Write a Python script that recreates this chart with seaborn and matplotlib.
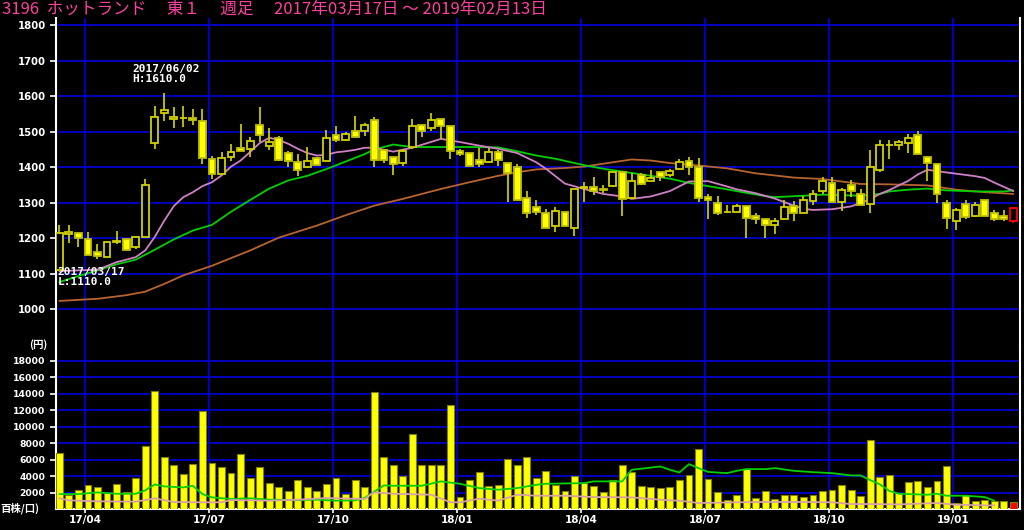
import pandas as pd
import numpy as np
import seaborn as sns
import matplotlib.pyplot as plt

# weekly candles 2017/03/17 - 2019/02/13 (3196 ホットランド)
opens = [1112, 1213, 1215, 1197, 1163, 1147, 1191, 1197, 1175, 1204,
         1469, 1552, 1535, 1540, 1539, 1531, 1424, 1382, 1428, 1455,
         1452, 1519, 1460, 1483, 1440, 1416, 1400, 1426, 1419, 1491,
         1477, 1501, 1502, 1532, 1449, 1428, 1413, 1457, 1520, 1511,
         1536, 1515, 1447, 1440, 1421, 1416, 1443, 1413, 1400, 1314,
         1288, 1271, 1234, 1273, 1230, 1342, 1344, 1338, 1347, 1386,
         1314, 1377, 1361, 1386, 1377, 1394, 1417, 1402, 1316, 1300,
         1274, 1275, 1290, 1264, 1254, 1238, 1255, 1291, 1272, 1305,
         1333, 1356, 1302, 1349, 1325, 1297, 1393, 1463, 1463, 1469,
         1492, 1428, 1410, 1300, 1250, 1297, 1264, 1307, 1272, 1263,
         1249]
highs = [1238, 1238, 1215, 1218, 1185, 1190, 1220, 1197, 1208, 1368,
         1572, 1610, 1569, 1572, 1565, 1565, 1433, 1444, 1466, 1522,
         1485, 1571, 1510, 1488, 1447, 1438, 1458, 1428, 1506, 1515,
         1500, 1543, 1524, 1541, 1449, 1428, 1452, 1536, 1520, 1553,
         1536, 1515, 1452, 1440, 1454, 1454, 1449, 1413, 1408, 1332,
         1309, 1283, 1288, 1273, 1338, 1358, 1374, 1349, 1388, 1386,
         1384, 1384, 1393, 1386, 1396, 1424, 1428, 1426, 1324, 1318,
         1295, 1297, 1290, 1272, 1254, 1257, 1307, 1304, 1318, 1335,
         1372, 1372, 1342, 1363, 1339, 1450, 1477, 1477, 1477, 1494,
         1502, 1431, 1410, 1309, 1286, 1309, 1302, 1307, 1279, 1281,
         1286]
lows = [1110, 1187, 1175, 1154, 1143, 1147, 1183, 1168, 1170, 1204,
        1452, 1530, 1510, 1514, 1519, 1410, 1366, 1382, 1419, 1445,
        1428, 1471, 1449, 1419, 1402, 1375, 1398, 1405, 1419, 1471,
        1475, 1484, 1489, 1400, 1412, 1379, 1403, 1452, 1485, 1502,
        1480, 1424, 1433, 1404, 1400, 1412, 1403, 1302, 1307, 1257,
        1266, 1230, 1218, 1236, 1208, 1302, 1323, 1328, 1344, 1263,
        1311, 1349, 1361, 1361, 1374, 1391, 1379, 1302, 1255, 1267,
        1272, 1275, 1202, 1240, 1200, 1213, 1251, 1249, 1272, 1295,
        1325, 1302, 1277, 1316, 1291, 1271, 1386, 1424, 1449, 1440,
        1438, 1361, 1299, 1227, 1224, 1255, 1260, 1263, 1249, 1249,
        1244]
closes = [1215, 1217, 1202, 1154, 1151, 1190, 1193, 1168, 1204, 1351,
          1542, 1562, 1542, 1540, 1532, 1427, 1382, 1427, 1444, 1445,
          1473, 1490, 1470, 1421, 1417, 1391, 1419, 1407, 1483, 1477,
          1494, 1485, 1519, 1421, 1421, 1410, 1445, 1516, 1503, 1533,
          1515, 1445, 1438, 1404, 1410, 1442, 1421, 1383, 1309, 1272,
          1274, 1230, 1276, 1236, 1338, 1344, 1333, 1337, 1388, 1311,
          1361, 1354, 1370, 1374, 1389, 1414, 1400, 1314, 1309, 1271,
          1274, 1290, 1258, 1255, 1238, 1250, 1288, 1272, 1307, 1325,
          1360, 1302, 1335, 1333, 1294, 1400, 1464, 1463, 1470, 1483,
          1438, 1412, 1325, 1258, 1281, 1260, 1295, 1263, 1255, 1255,
          1286]
volume = [6800, 1700, 2250, 2860, 2620, 1930, 3020, 2050, 3710, 7660,
          14300, 6330, 5280, 4190, 5480, 11930, 5600, 5040, 4310, 6690,
          3710, 5040, 3100, 2660, 2180, 3470, 2660, 2180, 3020, 3710,
          1850, 3470, 2660, 14230, 6330, 5280, 3950, 9070, 5280, 5280,
          5360, 12620, 1490, 3470, 4550, 2740, 2860, 6090, 5280, 6330,
          3710, 4630, 2860, 2140, 3950, 3140, 2740, 2060, 3470, 5360,
          4430, 2740, 2660, 2540, 2660, 3470, 4070, 7300, 3630, 2060,
          1090, 1690, 4880, 1330, 2180, 1210, 1690, 1690, 1450, 1690,
          2140, 2260, 2860, 2260, 1570, 8350, 3830, 4070, 1900, 3230,
          3350, 2620, 3430, 5240, 690, 1690, 930, 1090, 970, 970,
          810]

# moving averages (week number, value)
ma13_wk = [0, 4, 6, 8, 9, 10, 11, 12, 13, 14, 15, 16, 17, 18, 19, 20, 21, 22, 23, 24,
           25, 26, 27, 28, 29, 30, 31, 32, 33, 35, 37, 40, 42, 44, 46, 48, 50, 51, 52, 53,
           55, 57, 59, 60, 62, 64, 66, 68, 70, 71, 73, 75, 77, 78, 79, 81, 83, 84, 85, 86,
           87, 89, 90, 91, 92, 94, 96, 97, 98, 99, 100]
ma13 = [1108, 1112, 1133, 1147, 1166, 1204, 1250, 1291, 1316, 1330, 1347, 1358, 1377, 1402, 1419, 1443, 1468, 1483, 1477, 1466,
        1452, 1440, 1433, 1435, 1442, 1445, 1449, 1455, 1455, 1444, 1455, 1480, 1471, 1461, 1452, 1440, 1414, 1396, 1375, 1354,
        1339, 1325, 1318, 1311, 1318, 1333, 1360, 1361, 1346, 1338, 1327, 1312, 1292, 1283, 1280, 1282, 1290, 1300, 1310, 1325,
        1336, 1362, 1380, 1393, 1389, 1382, 1375, 1370, 1357, 1345, 1333]
ma26_wk = [0, 2, 4, 6, 8, 10, 12, 14, 16, 18, 20, 22, 24, 26, 28, 30, 32, 33, 35, 37,
           40, 43, 46, 48, 50, 52, 55, 57, 60, 64, 66, 68, 70, 72, 74, 75, 78, 80, 84, 86,
           87, 89, 91, 93, 96, 99, 100]
ma26 = [1077, 1094, 1110, 1127, 1140, 1168, 1197, 1222, 1238, 1275, 1308, 1340, 1363, 1376, 1395, 1416, 1437, 1450, 1464, 1457,
        1457, 1457, 1456, 1445, 1433, 1424, 1406, 1396, 1384, 1368, 1356, 1347, 1338, 1328, 1319, 1316, 1320, 1323, 1320, 1325,
        1332, 1337, 1340, 1335, 1332, 1332, 1335]
ma52_wk = [0, 4, 7, 9, 11, 13, 16, 20, 23, 27, 30, 33, 36, 40, 43, 46, 48, 50, 53, 55,
           57, 60, 62, 64, 67, 70, 73, 77, 80, 84, 87, 91, 94, 97, 100]
ma52 = [1024, 1030, 1040, 1050, 1072, 1096, 1123, 1166, 1202, 1236, 1265, 1292, 1311, 1339, 1358, 1376, 1386, 1394, 1398, 1402,
        1410, 1422, 1419, 1412, 1405, 1397, 1383, 1371, 1367, 1353, 1352, 1349, 1337, 1330, 1325]

vma_s_wk = [0, 2, 4, 6, 8, 9, 10, 11, 13, 14, 15, 16, 18, 20, 22, 25, 27, 29, 31, 32,
            34, 35, 38, 40, 42, 44, 46, 48, 50, 51, 55, 56, 59, 60, 63, 64, 65, 66, 67, 68,
            70, 71, 72, 74, 75, 77, 79, 81, 83, 84, 85, 86, 87, 88, 91, 92, 93, 95, 97, 98]
vma_s = [1810, 1810, 2015, 1850, 1850, 2260, 2980, 2740, 2620, 2820, 1810, 1410, 1210, 1290, 1130, 1090, 1130, 1010, 1050, 1330,
         2860, 2820, 2820, 3350, 3060, 2540, 2340, 2540, 2940, 3060, 3140, 3350, 3350, 4760, 5160, 4760, 4430, 5440, 4960, 4500,
         4350, 4630, 4840, 4840, 4960, 4630, 4470, 4350, 4070, 4070, 3500, 3000, 2200, 1850, 1730, 1850, 1610, 1610, 1450, 1010]
vma_l_wk = [0, 1, 4, 8, 10, 12, 15, 17, 18, 22, 25, 28, 32, 33, 35, 39, 41, 42, 44, 46,
            48, 50, 53, 56, 60, 63, 64, 65, 67, 71, 74, 78, 81, 83, 85, 88, 92, 94, 97, 98]
vma_l = [1290, 1050, 930, 890, 1290, 850, 810, 810, 1090, 1010, 1130, 1330, 1210, 2020, 1850, 1730, 810, 810, 1250, 1010,
         1730, 1610, 1610, 1450, 1410, 1130, 1050, 1010, 725, 810, 850, 850, 810, 600, 600, 560, 725, 520, 440, 440]

title = "3196  ホットランド　 東１　 週足　 2017年03月17日 ～ 2019年02月13日"

sns.set_theme(style="dark", rc={"axes.facecolor": "black", "figure.facecolor": "black"})
plt.rcParams['font.family'] = ['DejaVu Sans', 'Noto Sans CJK JP']

W, H = 1024, 530
fig = plt.figure(figsize=(W / 100, H / 100), dpi=100)
ax = fig.add_axes([56 / W, 1 - 345 / H, (1020 - 56) / W, (345 - 18) / H])
axv = fig.add_axes([56 / W, 1 - 509 / H, (1020 - 56) / W, (509 - 345) / H], sharex=ax)

weeks = pd.date_range("2017-03-17", periods=len(closes), freq="7D")
idx = np.arange(len(closes))

# quarter grid: just left of the first candle in Jan/Apr/Jul/Oct
qpos, qlab = [], []
for i in range(1, len(weeks)):
    if weeks[i].month != weeks[i - 1].month and weeks[i].month in (1, 4, 7, 10):
        qpos.append(i - 0.3)
        qlab.append(weeks[i].strftime("%y/%m"))

grid_col = "#0000d0"
o, h, l, c = map(np.array, (opens, highs, lows, closes))
up = c >= o
last = len(c) - 1
wick_col = ["#c8c800"] * len(c)
wick_col[last] = "#e00000"
ax.vlines(idx, l, h, color=wick_col, lw=1.3, zorder=3)
face = np.where(up, "black", "#ffff00").tolist()
edge = np.where(up, "#d0d000", "#c0c000").tolist()
face[last], edge[last] = "black", "#ff0000"
ax.bar(idx, np.abs(c - o), bottom=np.minimum(o, c), width=0.72,
       color=face, edgecolor=edge, lw=1.3, zorder=4)

sns.lineplot(x=ma52_wk, y=ma52, ax=ax, color="#b8642e", lw=1.3, zorder=2)
sns.lineplot(x=ma26_wk, y=ma26, ax=ax, color="#00d000", lw=1.3, zorder=2)
sns.lineplot(x=ma13_wk, y=ma13, ax=ax, color="#d080c8", lw=1.3, zorder=2)

mono = dict(color="white", fontsize=8, fontweight="bold", family="DejaVu Sans Mono",
            textcoords="offset pixels", ha="left", va="top", linespacing=1.0, zorder=6)
hi = int(np.argmax(h))
lo = int(np.argmin(l))
ax.annotate(f"{weeks[hi]:%Y/%m/%d}\nH:{h[hi]:.1f}", xy=(hi, h[hi]), xytext=(-32, 29), **mono)
ax.annotate(f"{weeks[lo]:%Y/%m/%d}\nL:{l[lo]:.1f}", xy=(lo, l[lo]), xytext=(-2, 3), **mono)

# volume panel
vcol = ["#ffff00"] * len(volume)
vcol[last] = "#ff0000"
axv.bar(idx, volume, width=0.72, color=vcol, edgecolor="#808000", lw=0.8, zorder=3)
sns.lineplot(x=vma_s_wk, y=vma_s, ax=axv, color="#00d000", lw=1.3, zorder=4)
sns.lineplot(x=vma_l_wk, y=vma_l, ax=axv, color="#d8a0a8", lw=1.3, zorder=4)

ax.set_xlim(-0.35, 100.7)
ax.set_ylim(900, 1820)
axv.set_ylim(0, 19900)
ax.set_yticks(range(1000, 1801, 100))
axv.set_yticks(range(2000, 18001, 2000))
axv.set_xticks(qpos)
axv.set_xticklabels(qlab)

for a in (ax, axv):
    a.set_facecolor("black")
    a.set_xlabel("")
    a.set_ylabel("")
    a.grid(True, color=grid_col, lw=1.3)
    a.set_axisbelow(True)
    for s in a.spines.values():
        s.set_visible(False)
    for s in ("left", "right"):
        a.spines[s].set_visible(True)
        a.spines[s].set_color("white")
        a.spines[s].set_linewidth(1.5)
    a.tick_params(axis="y", left=True, length=4.5, width=1.2, color="white", pad=3,
                  labelcolor="white", labelsize=7.3)
    for t in a.get_yticklabels():
        t.set_fontweight("bold")

ax.tick_params(axis="x", bottom=False, labelbottom=False)
axv.spines["bottom"].set_visible(True)
axv.spines["bottom"].set_color("white")
axv.spines["bottom"].set_linewidth(1.5)
axv.tick_params(axis="y", labelsize=6.7)
axv.tick_params(axis="x", bottom=True, length=3, width=1.2, color="white", pad=1.5,
                labelcolor="white", labelsize=7.5)
for t in axv.get_xticklabels():
    t.set_fontweight("bold")

cjk = ["Noto Sans CJK JP", "DejaVu Sans"]
fig.text(2 / W, 1 - 9 / H, title, color="#ff40a0", fontsize=12, family=cjk,
         ha="left", va="center")
fig.text(47 / W, 1 - 345 / H, "(円)", color="white", fontsize=7.5, fontweight="bold",
         family=cjk, ha="right", va="center")
fig.text(0, 1 - 508 / H, "百株/口)", color="white", fontsize=7.5, fontweight="bold",
         family=cjk, ha="left", va="center")

fig.savefig("out.png", dpi=100, facecolor="black")
